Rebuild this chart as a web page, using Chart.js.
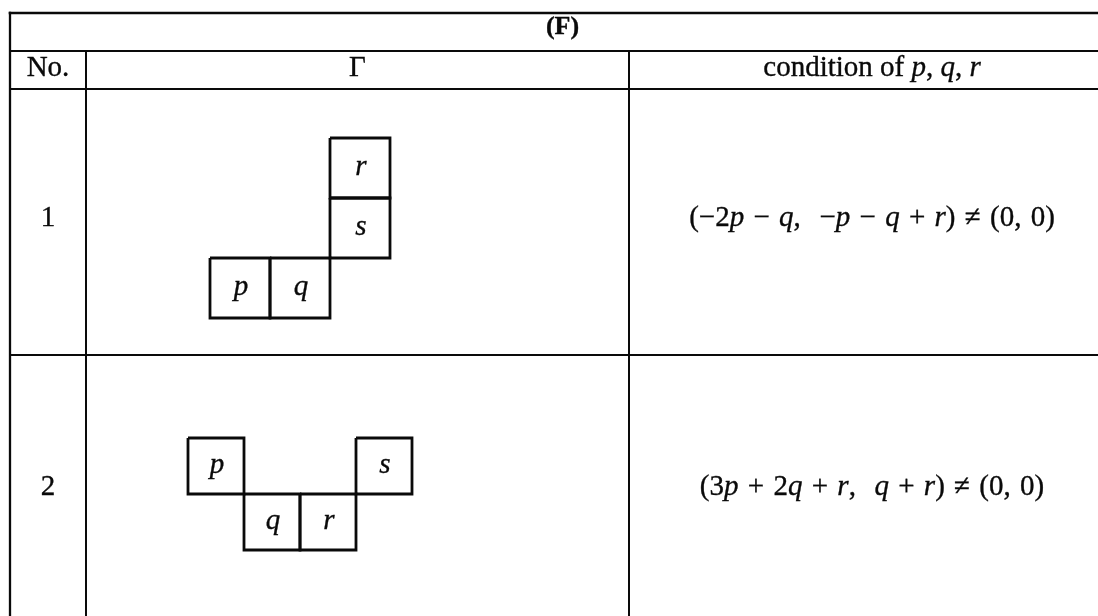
<!DOCTYPE html>
<html>
<head>
<meta charset="utf-8">
<script src="https://cdn.jsdelivr.net/npm/chart.js@4.4.0/dist/chart.umd.min.js"></script>
<style>
  html, body { margin: 0; padding: 0; background: #ffffff; }
  #wrap { width: 1098px; height: 616px; }
</style>
</head>
<body>
<div id="wrap"><canvas id="c" width="1098" height="616"></canvas></div>
<script>
// ---------------- DATA ----------------
const tableTitle = '(F)';
const headerNo = 'No.';
const headerGamma = 'Γ';
// [text, italic]
const headerCondition = [['condition of ', false], ['p', true], [', ', false], ['q', true], [', ', false], ['r', true]];
const rowNumbers = ['1', '2'];
// polyomino cells: [label, column, row (counted upward)]
const gammaRow1 = [['p', 0, 0], ['q', 1, 0], ['s', 2, 1], ['r', 2, 2]];
const gammaRow2 = [['p', 0, 1], ['q', 1, 0], ['r', 2, 0], ['s', 3, 1]];
const conditionRow1 = [['(−2', false], ['p', true], [' − ', false], ['q', true], [',  −', false], ['p', true],
                       [' − ', false], ['q', true], [' + ', false], ['r', true], [') ≠ (0, 0)', false]];
const conditionRow2 = [['(3', false], ['p', true], [' + 2', false], ['q', true], [' + ', false], ['r', true],
                       [',  ', false], ['q', true], [' + ', false], ['r', true], [') ≠ (0, 0)', false]];

// ---------------- LAYOUT (style, not data) ----------------
const colEdges = [10, 86, 629, 1115];
const rowEdges = [13, 51, 89, 355, 625];
const textBaselines = { title: 34, header: 76, rows: [226, 495] };
const figures = [
  { cells: gammaRow1, x0: 210, yBottom: 318, size: 60 },
  { cells: gammaRow2, x0: 188, yBottom: 550, size: 56 }
];
const FONT = '"Liberation Serif", "Times New Roman", serif';
const TEXT_SIZE = 29;
const INK = '#0a0a0a';

// ---------------- DATASETS ----------------
function seg(x1, y1, x2, y2, w) {
  return { data: [{ x: x1, y: y1 }, { x: x2, y: y2 }], showLine: true, borderColor: INK,
           borderWidth: w, pointRadius: 0, fill: false, borderCapStyle: 'square', clip: false };
}
const datasets = [];
const tLeft = colEdges[0], tRight = colEdges[colEdges.length - 1];
const tTop = rowEdges[0], tBottom = rowEdges[rowEdges.length - 1];
rowEdges.forEach((y, i) => datasets.push(seg(tLeft, y, tRight, y, i === 0 ? 2.6 : 2)));
datasets.push(seg(tLeft, tTop, tLeft, tBottom, 2.3));
datasets.push(seg(tRight, tTop, tRight, tBottom, 2.3));
colEdges.slice(1, -1).forEach(x => datasets.push(seg(x, rowEdges[1], x, tBottom, 2)));

figures.forEach(f => {
  f.cells.forEach(([lab, c, r]) => {
    const x1 = f.x0 + c * f.size, x2 = x1 + f.size;
    const y2 = f.yBottom - r * f.size, y1 = y2 - f.size;
    datasets.push({
      data: [{ x: x1, y: y1 }, { x: x2, y: y1 }, { x: x2, y: y2 }, { x: x1, y: y2 }, { x: x1, y: y1 }],
      showLine: true, borderColor: INK, borderWidth: 2.8, pointRadius: 0, fill: false,
      borderJoinStyle: 'miter', clip: false
    });
  });
});

// ---------------- TEXT PLUGIN ----------------
// draws [text, italic] segments centred at cx; spaces take spaceEm of the font size
function drawSegs(ctx, segs, cx, baseY, size, bold, spaceEm) {
  const pieces = [];
  segs.forEach(([t, it]) => {
    const font = (it ? 'italic ' : '') + (bold ? 'bold ' : '') + size + 'px ' + FONT;
    t.split(/( )/).forEach(p => { if (p !== '') pieces.push([p, font]); });
  });
  let total = 0;
  const widths = pieces.map(([p, font]) => {
    ctx.font = font;
    const w = (p === ' ' && spaceEm) ? spaceEm * size : ctx.measureText(p).width;
    total += w; return w;
  });
  let x = cx - total / 2;
  ctx.lineWidth = 0.35;
  ctx.strokeStyle = INK;
  pieces.forEach(([p, font], i) => {
    ctx.font = font;
    if (p !== ' ') { ctx.fillText(p, x, baseY); ctx.strokeText(p, x, baseY); }
    x += widths[i];
  });
}

const textPlugin = {
  id: 'tableText',
  afterDatasetsDraw(chart) {
    const ctx = chart.ctx, sx = chart.scales.x, sy = chart.scales.y;
    const cxOf = i => (sx.getPixelForValue(colEdges[i]) + sx.getPixelForValue(colEdges[i + 1])) / 2;
    ctx.save();
    ctx.fillStyle = INK;
    ctx.textBaseline = 'alphabetic';
    ctx.textAlign = 'left';
    const titleX = (sx.getPixelForValue(tLeft) + sx.getPixelForValue(tRight)) / 2;
    drawSegs(ctx, [[tableTitle, false]], titleX, sy.getPixelForValue(textBaselines.title), 26, true);
    const hy = sy.getPixelForValue(textBaselines.header);
    drawSegs(ctx, [[headerNo, false]], cxOf(0), hy, TEXT_SIZE, false);
    drawSegs(ctx, [[headerGamma, false]], cxOf(1), hy, TEXT_SIZE, false);
    drawSegs(ctx, headerCondition, cxOf(2), hy, TEXT_SIZE, false);
    const conds = [conditionRow1, conditionRow2];
    rowNumbers.forEach((n, i) => {
      const by = sy.getPixelForValue(textBaselines.rows[i]);
      drawSegs(ctx, [[n, false]], cxOf(0), by, TEXT_SIZE, false);
      drawSegs(ctx, conds[i], cxOf(2), by, TEXT_SIZE, false, 0.32);
    });
    figures.forEach(f => {
      f.cells.forEach(([lab, c, r]) => {
        const x = sx.getPixelForValue(f.x0 + (c + 0.5) * f.size);
        const y = sy.getPixelForValue(f.yBottom - (r + 0.5) * f.size);
        drawSegs(ctx, [[lab, true]], x + 1, y + 7, TEXT_SIZE, false);
      });
    });
    ctx.restore();
  }
};

new Chart(document.getElementById('c'), {
  type: 'scatter',
  data: { datasets },
  options: {
    responsive: false,
    devicePixelRatio: 1,
    animation: false,
    layout: { padding: 0 },
    plugins: { legend: { display: false }, tooltip: { enabled: false }, title: { display: false } },
    scales: {
      x: { type: 'linear', min: 0, max: 1098, display: false },
      y: { type: 'linear', min: 0, max: 616, reverse: true, display: false }
    },
    events: []
  },
  plugins: [textPlugin]
});
</script>
</body>
</html>
